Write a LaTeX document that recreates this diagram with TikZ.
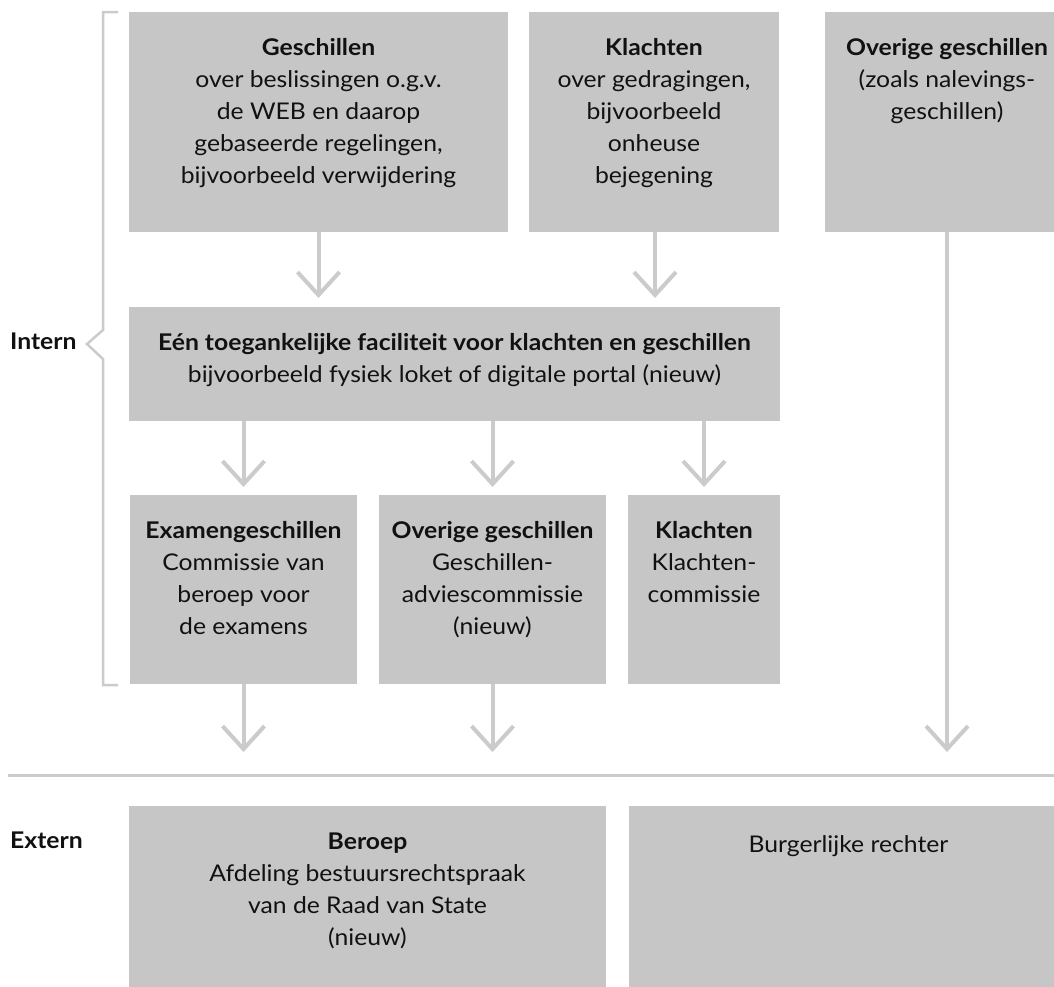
\documentclass[tikz,border=0pt]{standalone}
\usepackage{fontspec}
\setmainfont{Lato}[FakeStretch=1.075]
\usetikzlibrary{arrows.meta}
\definecolor{boxgray}{HTML}{C6C6C6}
\definecolor{linegray}{HTML}{CBCBCB}
\definecolor{txtblack}{HTML}{111111}
\begin{document}
\begin{tikzpicture}[x=1pt,y=-1pt,
  box/.style={fill=boxgray, draw=none, inner sep=0pt, outer sep=0pt, anchor=north west},
  txt/.style={anchor=north, align=center, inner sep=0pt, text=txtblack, font=\fontsize{23}{32}\selectfont},
  lbl/.style={anchor=base west, inner sep=0pt, text=txtblack, font=\fontsize{23}{32}\selectfont\bfseries},
  arr/.style={draw=linegray, line width=4pt, -{Straight Barb[length=23pt,width=42pt]}},
  brack/.style={draw=linegray, line width=2.5pt, line join=miter},
  rule/.style={draw=linegray, line width=3pt}]
\useasboundingbox (0,0) rectangle (1054,986);
\clip (0,0) rectangle (1054,986);

% top row
\node[box, minimum width=379pt, minimum height=220pt] (b1) at (129,12) {};
\node[box, minimum width=250pt, minimum height=220pt] (b2) at (529,12) {};
\node[box, minimum width=244pt, minimum height=220pt] (b3) at (825,12) {};
\node[txt] (t1) at ([yshift=-20.5pt]b1.north) {\strut\textbf{Geschillen}\\over beslissingen o.g.v.\\de WEB en daarop\\gebaseerde regelingen,\\bijvoorbeeld verwijdering};
\node[txt] (t2) at ([yshift=-20.5pt]b2.north) {\strut\textbf{Klachten}\\over gedragingen,\\bijvoorbeeld\\onheuse\\bejegening};
\node[txt] (t3) at ([yshift=-20.5pt]b3.north) {\strut\textbf{Overige geschillen}\\(zoals nalevings-\\geschillen)};

% middle
\node[box, minimum width=651pt, minimum height=114pt] (m) at (129,307) {};
\node[txt] (tm) at ([yshift=-20.5pt]m.north) {\strut\textbf{Eén toegankelijke faciliteit voor klachten en geschillen}\\bijvoorbeeld fysiek loket of digitale portal (nieuw)};

% lower row
\node[box, minimum width=227pt, minimum height=189pt] (e) at (130,495) {};
\node[box, minimum width=227pt, minimum height=189pt] (o) at (379,495) {};
\node[box, minimum width=152pt, minimum height=189pt] (k) at (628,495) {};
\node[txt] (te) at ([yshift=-20.5pt]e.north) {\strut\textbf{Examengeschillen}\\Commissie van\\beroep voor\\de examens};
\node[txt] (to) at ([yshift=-20.5pt]o.north) {\strut\textbf{Overige geschillen}\\Geschillen-\\adviescommissie\\(nieuw)};
\node[txt] (tk) at ([yshift=-20.5pt]k.north) {\strut\textbf{Klachten}\\Klachten-\\commissie};

% extern row
\node[box, minimum width=477pt, minimum height=190pt] (r) at (129,806) {};
\node[box, minimum width=439pt, minimum height=190pt] (c) at (629,806) {};
\node[txt] (tr) at ([yshift=-20.5pt]r.north) {\strut\textbf{Beroep}\\Afdeling bestuursrechtspraak\\van de Raad van State\\(nieuw)};
\node[txt] (tc) at ([yshift=-24pt]c.north) {\strut Burgerlijke rechter};

% labels
\node[lbl] (intern) at (10,349) {Intern};
\node[lbl] (extern) at (10,848) {Extern};

% bracket
\draw[brack] (118,12) -- (103,12) -- (103,330) -- (87,344) -- (103,359) -- (103,685) -- (118,685);

% separator
\draw[rule] (8,775.5) -- (1054,775.5);

% arrows
\draw[arr, shorten >=9pt] (b1.south) -- (b1.south |- m.north);
\draw[arr, shorten >=9pt] ([xshift=1pt]b2.south) -- ([xshift=1pt]b2.south |- m.north);
\draw[arr, shorten >=8pt] (m.south -| e.north) -- (e.north);
\draw[arr, shorten >=8pt] (m.south -| o.north) -- (o.north);
\draw[arr, shorten >=8pt] (m.south -| k.north) -- (k.north);
\draw[arr, shorten >=54pt] (e.south) -- (e.south |- r.north);
\draw[arr, shorten >=54pt] (o.south) -- (o.south |- r.north);
\draw[arr, shorten >=54pt] (b3.south) -- (b3.south |- c.north);
\end{tikzpicture}
\end{document}
